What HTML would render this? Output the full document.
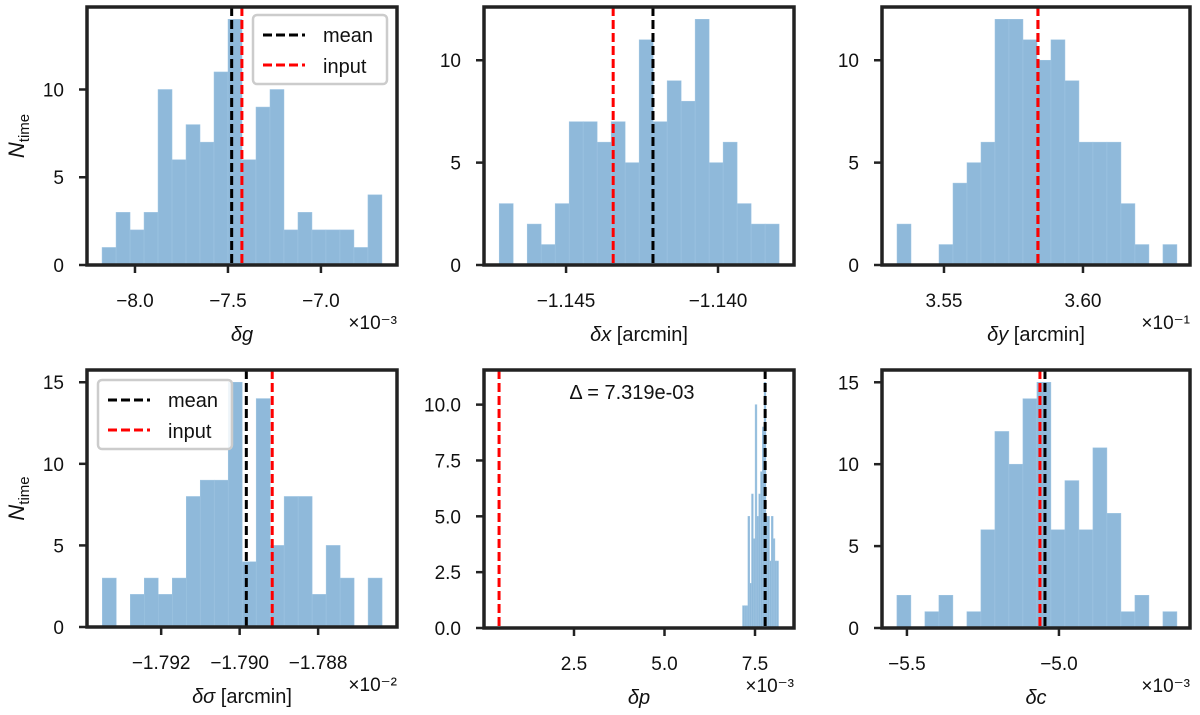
<!DOCTYPE html>
<html><head><meta charset="utf-8"><style>
body{margin:0;background:#fff}
svg{display:block;font-family:"Liberation Sans","DejaVu Sans",sans-serif}
</style></head><body>
<svg id="fig" width="1200" height="715" viewBox="0 0 1200 715"></svg>
<script>
// ---- data ----
const countsG2=[1,3,2,3,10,6,8,7,11,14,6,9,10,2,3,2,2,2,1,4];
const countsX=[3,0,2,1,3,7,7,6,7,5,11,7,9,8,12,5,6,3,2,2];
const countsY=[2,0,0,1,4,5,6,12,12,11,10,11,9,6,6,6,3,1,0,1];
const countsS=[3,0,2,3,2,3,8,9,9,15,4,14,5,8,8,2,5,3,0,3];
const countsP=[1,1,1,5,2,6,4,10,5,6,7,9,11,5,5,3,5,4,3,3];
const countsC=[2,0,1,2,0,1,6,12,10,14,15,6,9,6,11,7,1,2,0,1];
const binRanges=[[-8.177,-6.672],[-1.14720,-1.13799],[3.5331,3.6338],[-1.79350,-1.78637],[7.155,8.149],[-5.533,-4.612]];
const xLims=[[-8.258,-6.591],[-1.14770,-1.1375],[3.5277,3.6385],[-1.79389,-1.78599],[0.014,8.577],[-5.582,-4.569]];
const yMaxes=[14.7,12.6,12.6,15.75,11.55,15.75];
const meanVals=[-7.48,-1.14214,3.5838,-1.78983,7.78,-5.046];
const inputVals=[-7.425,-1.14345,3.5838,-1.78917,0.43,-5.0625];
const xTickVals=[[-8.0,-7.5,-7.0],[-1.145,-1.140],[3.55,3.60],[-1.792,-1.790,-1.788],[2.5,5.0,7.5],[-5.5,-5.0]];
const xTickLabels=[["−8.0","−7.5","−7.0"],["−1.145","−1.140"],["3.55","3.60"],["−1.792","−1.790","−1.788"],["2.5","5.0","7.5"],["−5.5","−5.0"]];
const yTickVals=[[0,5,10],[0,5,10],[0,5,10],[0,5,10,15],[0,2.5,5,7.5,10],[0,5,10,15]];
const yTickLabels=[["0","5","10"],["0","5","10"],["0","5","10"],["0","5","10","15"],["0.0","2.5","5.0","7.5","10.0"],["0","5","10","15"]];
const xLabels=["δg","δx [arcmin]","δy [arcmin]","δσ [arcmin]","δp","δc"];
const offsets=["×10⁻³","","×10⁻¹","×10⁻²","×10⁻³","×10⁻³"];
const allCounts=[countsG2,countsX,countsY,countsS,countsP,countsC];
// ---- layout ----
const boxes=[[87,7,397,265],[484,7,794,265],[882,7,1190,265],[87,370,397,627],[484,370,794,628],[882,370,1190,628]];
const NS="http://www.w3.org/2000/svg";
const svg=document.getElementById('fig');
function mk(tag,attrs,parent){const e=document.createElementNS(NS,tag);for(const k in attrs)e.setAttribute(k,attrs[k]);(parent||svg).appendChild(e);return e;}
for(let p=0;p<6;p++){
  const [L,T,R,B]=boxes[p];
  const g=mk('g',{});
  
  
  const xs=v=>L+(v-xLims[p][0])/(xLims[p][1]-xLims[p][0])*(R-L);
  const ys=v=>B-v/yMaxes[p]*(B-T);
  const cs=allCounts[p];const n=cs.length;const [b0,b1]=binRanges[p];const w=(b1-b0)/n;
  cs.forEach((c,i)=>{ if(c<=0)return;
    const x0=xs(b0+i*w),x1=xs(b0+(i+1)*w);
    const r=mk('rect',{x:x0,y:ys(c),width:Math.max(x1-x0,0.5),height:B-ys(c),fill:'#8fb9da',stroke:'#a0c6e3','stroke-width':0.5},g);
    
    
  });
  const ml=mk('line',{x1:xs(meanVals[p]),x2:xs(meanVals[p]),y1:T,y2:B,stroke:'#000','stroke-width':3,'stroke-dasharray':'9 4'},g);
  
  
  const il=mk('line',{x1:xs(inputVals[p]),x2:xs(inputVals[p]),y1:T,y2:B,stroke:'#ff0000','stroke-width':3,'stroke-dasharray':'9 4'},g);
  
  
  const fr=mk('rect',{x:L,y:T,width:R-L,height:B-T,fill:'none',stroke:'#222','stroke-width':3.5},g);
  
  
  xTickVals[p].forEach((v,i)=>{const x=xs(v);
    mk('line',{x1:x,x2:x,y1:B,y2:B+8,stroke:'#222','stroke-width':2.5},g);
    const t=mk('text',{x:x,y:B+42,'text-anchor':'middle','font-size':19,fill:'#111'},g);t.textContent=xTickLabels[p][i];
    
    
  });
  yTickVals[p].forEach((v,i)=>{const y=ys(v);
    mk('line',{x1:L-8,x2:L,y1:y,y2:y,stroke:'#222','stroke-width':2.5},g);
    const t=mk('text',{x:L-23,y:y+7,'text-anchor':'end','font-size':19,fill:'#111'},g);t.textContent=yTickLabels[p][i];
    
    
  });
  const xl=mk('text',{x:(L+R)/2,y:B+76,'text-anchor':'middle','font-size':20,fill:'#111'},g);
  xl.innerHTML=xLabels[p].replace(/^(δ\S)/,'<tspan font-style="italic">$1</tspan>');
  
  
  if(offsets[p]){const o=mk('text',{x:R,y:B+64,'text-anchor':'end','font-size':19,fill:'#111'},g);o.textContent=offsets[p];
    
    }
  if(p===0||p===3){
    const yl=mk('text',{transform:`translate(24,${(T+B)/2}) rotate(-90)`,'text-anchor':'middle','font-size':22,fill:'#111'},g);
    yl.innerHTML='<tspan font-style="italic">N</tspan><tspan font-size="15" dy="5">time</tspan>';
    
    
    const lx=p===0?253:98, ly=p===0?15:380;
    const lg=mk('g',{},g);
    
    
    mk('rect',{x:lx,y:ly,width:134,height:69,rx:4,fill:'#fff','fill-opacity':0.85,stroke:'#ccc','stroke-width':2.5},lg);
    mk('line',{x1:lx+10,x2:lx+52,y1:ly+20,y2:ly+20,stroke:'#000','stroke-width':3,'stroke-dasharray':'9 4'},lg);
    mk('line',{x1:lx+10,x2:lx+52,y1:ly+50,y2:ly+50,stroke:'#ff0000','stroke-width':3,'stroke-dasharray':'9 4'},lg);
    const t1=mk('text',{x:lx+70,y:ly+27,'font-size':20,fill:'#111'},lg);t1.textContent='mean';
    
    
    const t2=mk('text',{x:lx+70,y:ly+58,'font-size':20,fill:'#111'},lg);t2.textContent='input';
    
    
  }
  if(p===4){const a=mk('text',{x:632,y:399,'text-anchor':'middle','font-size':20,fill:'#111'},g);a.textContent='Δ = 7.319e-03';
    
    }
}
</script>
</body></html>
